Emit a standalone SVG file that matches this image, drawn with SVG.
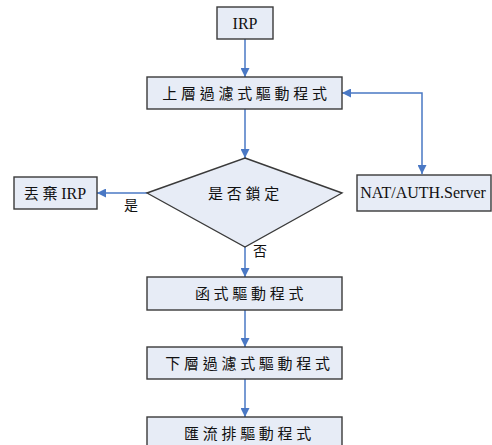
<svg xmlns="http://www.w3.org/2000/svg" width="492" height="445" viewBox="0 0 492 445">
<style>
.box{fill:#E7ECF6;stroke:#3a3a3a;stroke-width:1.4}
.cjk{font-family:"Liberation Serif","Noto Sans CJK TC",serif;font-size:15px;letter-spacing:3.7px;fill:#111;text-anchor:middle}
.lat{font-family:"Liberation Serif","Noto Sans CJK TC",serif;font-size:16px;fill:#111;text-anchor:middle}
.lbl{font-family:"Liberation Serif","Noto Sans CJK TC",serif;font-size:14px;fill:#111;text-anchor:middle}
.edge{fill:none;stroke:#4A78C4;stroke-width:1.5}
</style>
<defs>
<marker id="ah" viewBox="0 0 10 10" refX="10" refY="5" markerWidth="9" markerHeight="9" markerUnits="userSpaceOnUse" orient="auto-start-reverse">
<path d="M0,0 L10,5 L0,10 z" fill="#4A78C4"/>
</marker>
</defs>
<g id="connectors">
<line class="edge" x1="245" y1="39" x2="245" y2="77" marker-end="url(#ah)"/>
<line class="edge" x1="245" y1="109" x2="245" y2="158" marker-end="url(#ah)"/>
<line class="edge" x1="147" y1="193" x2="97" y2="193" marker-end="url(#ah)"/>
<line class="edge" x1="245" y1="247" x2="245" y2="277" marker-end="url(#ah)"/>
<line class="edge" x1="245" y1="310" x2="245" y2="347" marker-end="url(#ah)"/>
<line class="edge" x1="245" y1="379" x2="245" y2="417" marker-end="url(#ah)"/>
<polyline class="edge" points="342,93 422,93 422,174" marker-start="url(#ah)" marker-end="url(#ah)"/>
<text class="lbl" x="131" y="210">是</text>
<text class="lbl" x="260" y="256">否</text>
</g>
<g id="irp">
<rect class="box" x="217" y="7" width="56" height="32"/>
<text class="lat" x="245" y="29">IRP</text>
</g>
<g id="upper-filter">
<rect class="box" x="147" y="77" width="195" height="32"/>
<text class="cjk" x="246.5" y="98.5">上層過濾式驅動程式</text>
</g>
<g id="locked">
<polygon class="box" points="245,158 342,193 245,247 147,193"/>
<text class="cjk" x="245.5" y="198.5">是否鎖定</text>
</g>
<g id="discard">
<rect class="box" x="14" y="177" width="83" height="32"/>
<text class="cjk" x="55" y="198.5">丟棄<tspan style="font-size:16px;letter-spacing:0">IRP</tspan></text>
</g>
<g id="server">
<rect class="box" x="357" y="175" width="134" height="36"/>
<text class="lat" x="423" y="198">NAT/AUTH.Server</text>
</g>
<g id="function-driver">
<rect class="box" x="147" y="277" width="195" height="33"/>
<text class="cjk" x="251" y="299">函式驅動程式</text>
</g>
<g id="lower-filter">
<rect class="box" x="147" y="347" width="195" height="32"/>
<text class="cjk" x="249.5" y="368.5">下層過濾式驅動程式</text>
</g>
<g id="bus-driver">
<rect class="box" x="147" y="417" width="195" height="33"/>
<text class="cjk" x="249.5" y="438.5">匯流排驅動程式</text>
</g>
</svg>
